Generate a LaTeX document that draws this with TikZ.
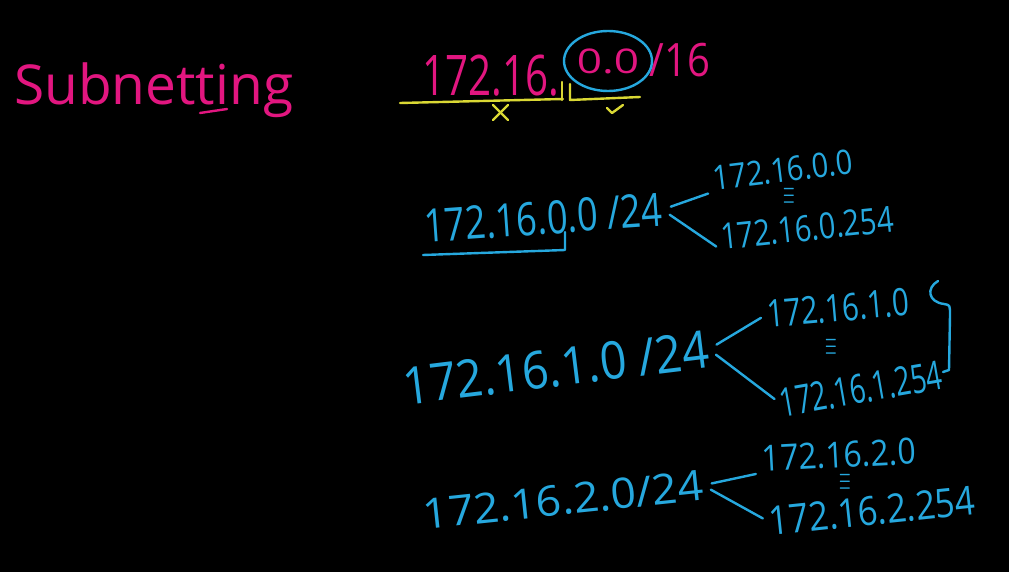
\documentclass[tikz,border=0pt]{standalone}
\usepackage{fontspec}
\usepackage{xcolor}
\usepackage{tikz}
\usetikzlibrary{
    calc
}

\newfontfamily\handfont{Open Sans}

\definecolor{pinkink}{RGB}{226,22,128}
\definecolor{blueink}{RGB}{38,168,222}
\definecolor{yellowink}{RGB}{218,216,52}

\begin{document}
\begin{tikzpicture}[
        x=1pt, y=-1pt,
        ip/.style={
            font=\handfont\fontsize{#1}{#1}\selectfont,
            inner sep=0pt
        },
        addr/.style={
            ip=#1,
            text=blueink
        },
        line/.style={
            blueink,
            line width=2.4pt,
            line cap=round,
            shorten <=9pt,
            shorten >=7pt
        },
        ink/.style={
            line width=2.4pt,
            line cap=round,
            line join=round
        },
        eqv/.style={
            font=\fontsize{26}{26}\selectfont,
            text=blueink,
            inner sep=0pt,
            xscale=0.6,
            yscale=1.4
        }
    ]

    \fill[black] (0,0) rectangle (1009,572);

    % title
    \node[ip=55, text=pinkink, anchor=base west] (title) at (14,105) {Subnetting};
    \draw[ink, pinkink] (200,113) -- (227,109);

    % network to split
    \node[ip=56, text=pinkink, xscale=0.72] (net) at (491,76) {172.16.};
    \node[ip=34, text=pinkink, xscale=1.3] (host) at (608,61) {0.0};
    \node[ip=46, text=pinkink, xscale=0.87] (prefix) at (680,60) {/16};
    \draw[ink, blueink] (host.center) ellipse [x radius=44, y radius=30];

    \draw[ink, yellowink] (400,103) -- (563,99);
    \draw[ink, yellowink] (562,82) -- (562,100);
    \draw[ink, yellowink] (570,84) -- (570,100) -- (640,97);
    \draw[ink, yellowink] (493,105) -- (508,120);
    \draw[ink, yellowink] (508,105) -- (493,120);
    \draw[ink, yellowink] (607,108) -- (612,113) -- (623,105);

    % first subnet
    \node[addr=46, rotate=4, xscale=0.79] (sub0) at (543,218) {172.16.0.0 /24};
    \node[addr=34, rotate=7, xscale=0.86] (sub0first) at (783,170) {172.16.0.0};
    \node[addr=36, rotate=6, xscale=0.81] (sub0last) at (807,228) {172.16.0.254};
    \node[eqv] (sub0dots) at (789,196) {$\equiv$};
    \draw[ink, blueink] (423,255) -- (565,250) -- (565,232);
    \draw[line] (sub0.east) -- (sub0first.south west);
    \draw[line] (sub0.east) -- (sub0last.south west);

    % second subnet
    \node[addr=52, rotate=7, xscale=0.9] (sub1) at (556,368) {172.16.1.0 /24};
    \node[addr=38, rotate=5, xscale=0.78] (sub1first) at (838,308) {172.16.1.0};
    \node[addr=40, rotate=10, xscale=0.69] (sub1last) at (861,389) {172.16.1.254};
    \node[eqv] (sub1dots) at (831,347) {$\equiv$};
    \draw[line] (sub1.east) -- (sub1first.west);
    \draw[line] (sub1.east) -- (sub1last.west);
    \draw[ink, blueink] (938,281) .. controls (926,288) and (928,302) .. (944,304)
        .. controls (950,305) .. (950,315) -- (949,370) -- (943,372);

    % third subnet
    \node[addr=42, rotate=6, xscale=1.06] (sub2) at (563,500) {172.16.2.0/24};
    \node[addr=36, rotate=3, xscale=0.89] (sub2first) at (839,455) {172.16.2.0};
    \node[addr=40, rotate=6, xscale=0.87] (sub2last) at (872,511) {172.16.2.254};
    \node[eqv] (sub2dots) at (845,482) {$\equiv$};
    \draw[line] (sub2.east) -- (sub2first.south west);
    \draw[line] (sub2.east) -- (sub2last.west);

\end{tikzpicture}
\end{document}
